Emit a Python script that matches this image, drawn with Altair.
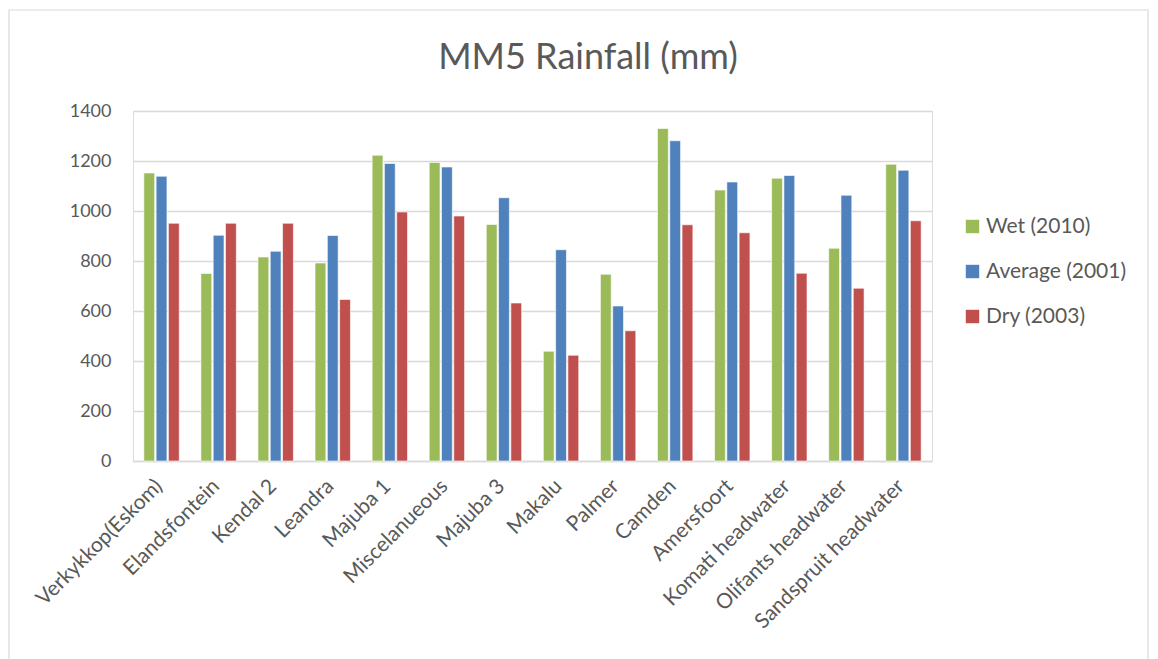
import altair as alt
import pandas as pd

categories = ["Verkykkop(Eskom)", "Elandsfontein", "Kendal 2", "Leandra", "Majuba 1",
              "Miscelanueous", "Majuba 3", "Makalu", "Palmer", "Camden", "Amersfoort",
              "Komati headwater", "Olifants headwater", "Sandspruit headwater"]
wet_2010 = [1152, 750, 816, 792, 1223, 1194, 946, 439, 747, 1330, 1084, 1131, 851, 1187]
avg_2001 = [1139, 903, 839, 902, 1190, 1176, 1053, 845, 620, 1281, 1116, 1142, 1063, 1163]
dry_2003 = [951, 951, 951, 646, 996, 980, 632, 423, 521, 945, 913, 751, 691, 961]
series = ["Wet (2010)", "Average (2001)", "Dry (2003)"]
colors = ["#9BBB59", "#4F81BD", "#C0504D"]
title_text = "MM5 Rainfall (mm)"

rows = []
for i, c in enumerate(categories):
    for s, vals in zip(series, [wet_2010, avg_2001, dry_2003]):
        rows.append({"site": c, "series": s, "value": vals[i]})
df = pd.DataFrame(rows)

FONT = "Lato"
TXT = "#595959"

bars = alt.Chart(df).mark_bar(stroke="white", strokeWidth=0.6).encode(
    x=alt.X("site:N", sort=categories, title=None,
            scale=alt.Scale(paddingInner=0.38, paddingOuter=0.19),
            axis=alt.Axis(labelAngle=-45, labelFontSize=21, labelColor=TXT, labelFont=FONT,
                          ticks=False, domainColor="#D9D9D9", domainWidth=1.3,
                          labelPadding=14, labelOffset=-10, labelLimit=300)),
    xOffset=alt.XOffset("series:N", sort=series, scale=alt.Scale(paddingInner=0.12)),
    y=alt.Y("value:Q", title=None,
            scale=alt.Scale(domain=[0, 1400]),
            axis=alt.Axis(values=[0, 200, 400, 600, 800, 1000, 1200, 1400], format="d",
                          labelFontSize=18, labelColor=TXT, labelFont=FONT,
                          ticks=False, domain=False, gridColor="#D9D9D9", gridWidth=1.3,
                          labelPadding=22)),
    color=alt.Color("series:N", sort=series,
                    scale=alt.Scale(domain=series, range=colors),
                    legend=alt.Legend(title=None, orient="none", legendX=829, legendY=105,
                                      symbolType="square", symbolSize=180, symbolStrokeWidth=0,
                                      labelFontSize=21, labelColor=TXT, labelFont=FONT,
                                      rowPadding=23, labelOffset=3)),
)

border = alt.Chart(pd.DataFrame({"a": [0]})).mark_rect(
    fill=None, stroke="#D9D9D9", strokeWidth=1.2
).encode(x=alt.value(-124), x2=alt.value(1015), y=alt.value(-101), y2=alt.value(552))

title = alt.Chart(pd.DataFrame({"t": [title_text]})).mark_text(
    font=FONT, fontSize=36, color=TXT, baseline="alphabetic", align="center"
).encode(text="t:N", x=alt.value(455), y=alt.value(-42))

chart = alt.layer(border, bars, title).properties(
    width=799, height=350,
    padding={"left": 133, "top": 111, "right": 226, "bottom": 198},
    autosize=alt.AutoSizeParams(type="none"),
).configure_view(stroke=None).configure(background="white")

chart.save("out.html", embed_options={"renderer": "svg", "actions": False})
